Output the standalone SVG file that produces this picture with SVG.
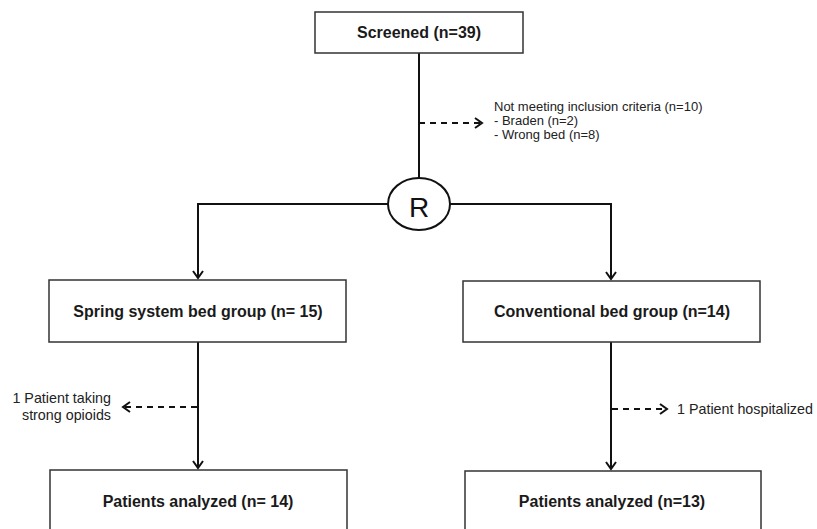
<svg xmlns="http://www.w3.org/2000/svg" width="817" height="529" viewBox="0 0 817 529">
<style>
.box{fill:#fff;stroke:#333;stroke-width:1.5}
.t{font-family:"Liberation Sans",Arial,sans-serif;font-weight:bold;font-size:16px;fill:#1a1a1a;text-anchor:middle}
.s{font-family:"Liberation Sans",Arial,sans-serif;font-size:13px;fill:#222}
.m{font-family:"Liberation Sans",Arial,sans-serif;font-size:14.3px;fill:#222}
.ln{fill:none;stroke:#111;stroke-width:2}
.dash{fill:none;stroke:#111;stroke-width:2;stroke-dasharray:6 5}
</style>
<defs>
<marker id="ah" markerWidth="12" markerHeight="12" refX="9" refY="6" orient="auto" markerUnits="userSpaceOnUse">
<path d="M2,1 L9,6 L2,11" fill="none" stroke="#111" stroke-width="2"/>
</marker>
</defs>
<rect width="817" height="529" fill="#fff"/>
<g id="connectors">
<line class="ln" x1="419" y1="53" x2="419" y2="178"/>
<line class="dash" x1="419" y1="123" x2="482" y2="123" marker-end="url(#ah)"/>
<path class="ln" d="M388,204 H198 V278" marker-end="url(#ah)"/>
<path class="ln" d="M450,204 H611 V279" marker-end="url(#ah)"/>
<line class="ln" x1="198" y1="342" x2="198" y2="468" marker-end="url(#ah)"/>
<line class="dash" x1="197" y1="407" x2="123" y2="407" marker-end="url(#ah)"/>
<line class="ln" x1="611" y1="342" x2="611" y2="469" marker-end="url(#ah)"/>
<line class="dash" x1="612" y1="409" x2="667" y2="409" marker-end="url(#ah)"/>
</g>
<g id="screened">
<rect class="box" x="315" y="12" width="208" height="41"/>
<text class="t" x="419" y="38">Screened (n=39)</text>
</g>
<g id="exclusion">
<text class="s" x="494" y="111">Not meeting inclusion criteria (n=10)</text>
<text class="s" x="494" y="125">- Braden (n=2)</text>
<text class="s" x="494" y="139">- Wrong bed (n=8)</text>
</g>
<g id="randomization">
<ellipse cx="419" cy="204" rx="31" ry="26" fill="#fff" stroke="#111" stroke-width="2"/>
<text x="419" y="217" font-family="'Liberation Sans',Arial,sans-serif" font-size="28" text-anchor="middle" fill="#111">R</text>
</g>
<g id="spring">
<rect class="box" x="49" y="280" width="297" height="62"/>
<text class="t" x="198" y="317">Spring system bed group (n= 15)</text>
</g>
<g id="conventional">
<rect class="box" x="463" y="281" width="297" height="61"/>
<text class="t" x="612" y="317">Conventional bed group (n=14)</text>
</g>
<g id="opioids">
<text class="m" x="111" y="403" text-anchor="end">1 Patient taking</text>
<text class="m" x="111" y="420" text-anchor="end">strong opioids</text>
</g>
<g id="hospitalized">
<text class="m" x="677" y="414">1 Patient hospitalized</text>
</g>
<g id="analyzed-left">
<rect class="box" x="50" y="470" width="297" height="70"/>
<text class="t" x="198" y="507">Patients analyzed (n= 14)</text>
</g>
<g id="analyzed-right">
<rect class="box" x="465" y="471" width="296" height="70"/>
<text class="t" x="612" y="507">Patients analyzed (n=13)</text>
</g>
</svg>
